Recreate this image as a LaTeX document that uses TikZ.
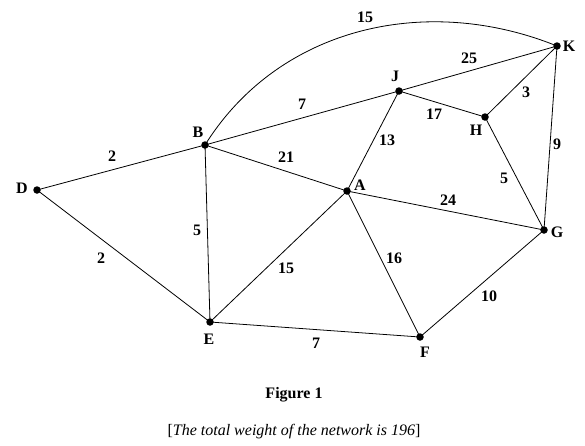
\documentclass[tikz,border=0pt]{standalone}
\usepackage{fontspec}
\setmainfont{Liberation Serif}
\begin{document}
\begin{tikzpicture}[x=1pt,y=-1pt,
  vert/.style={circle,fill=black,inner sep=0pt,minimum size=7.5pt},
  lab/.style={font=\fontsize{16}{18}\selectfont\bfseries,inner sep=0pt},
  wt/.style={font=\fontsize{16}{18}\selectfont\bfseries,inner sep=0pt},
  edge/.style={line width=0.8pt}]
\useasboundingbox (0,0) rectangle (585,445);
\fill[white] (0,0) rectangle (585,445);
% vertices
\node[vert] (D) at (37,190) {};
\node[vert] (B) at (205,145) {};
\node[vert] (J) at (399,91) {};
\node[vert] (K) at (557,46) {};
\node[vert] (H) at (485,117) {};
\node[vert] (A) at (347,191) {};
\node[vert] (G) at (544,230) {};
\node[vert] (E) at (210,322) {};
\node[vert] (F) at (420,337) {};
% vertex labels
\node[lab] (lD) at (22,188) {D};
\node[lab] (lB) at (198,132) {B};
\node[lab] (lJ) at (395,76) {J};
\node[lab] (lK) at (569,46) {K};
\node[lab] (lH) at (476,130) {H};
\node[lab] (lA) at (360,185) {A};
\node[lab] (lG) at (557,232) {G};
\node[lab] (lE) at (209,339) {E};
\node[lab] (lF) at (425,352) {F};
% edges
\draw[edge] (B.center) .. controls (279.2,26.3) and (427.2,-6.5) .. (K.center);
\draw[edge] (D.center) -- (B.center);
\draw[edge] (D.center) -- (E.center);
\draw[edge] (B.center) -- (E.center);
\draw[edge] (B.center) -- (J.center);
\draw[edge] (J.center) -- (K.center);
\draw[edge] (B.center) -- (A.center);
\draw[edge] (J.center) -- (A.center);
\draw[edge] (J.center) -- (H.center);
\draw[edge] (H.center) -- (K.center);
\draw[edge] (K.center) -- (G.center);
\draw[edge] (H.center) -- (G.center);
\draw[edge] (A.center) -- (G.center);
\draw[edge] (A.center) -- (E.center);
\draw[edge] (A.center) -- (F.center);
\draw[edge] (E.center) -- (F.center);
\draw[edge] (F.center) -- (G.center);
% weights
\node[wt] (wBK) at (365,17) {15};
\node[wt] (wJK) at (469,58) {25};
\node[wt] (wBJ) at (302,104) {7};
\node[wt] (wJH) at (434,114) {17};
\node[wt] (wHK) at (526,92) {3};
\node[wt] (wJA) at (387,140) {13};
\node[wt] (wKG) at (557,144) {9};
\node[wt] (wBA) at (286,157) {21};
\node[wt] (wHG) at (504,178) {5};
\node[wt] (wAG) at (448,200) {24};
\node[wt] (wBE) at (197,230) {5};
\node[wt] (wDB) at (112,156) {2};
\node[wt] (wDE) at (101,258) {2};
\node[wt] (wAE) at (286,268) {15};
\node[wt] (wAF) at (394,258) {16};
\node[wt] (wFG) at (489,296) {10};
\node[wt] (wEF) at (316,343) {7};
% captions
\node[font=\fontsize{16}{18}\selectfont\bfseries,inner sep=0pt] (fig) at (294,395) {Figure 1};
\node[font=\fontsize{16}{18}\selectfont,inner sep=0pt] (cap) at (294,432) {[\textit{The total weight of the network is 196}]};
\end{tikzpicture}
\end{document}
